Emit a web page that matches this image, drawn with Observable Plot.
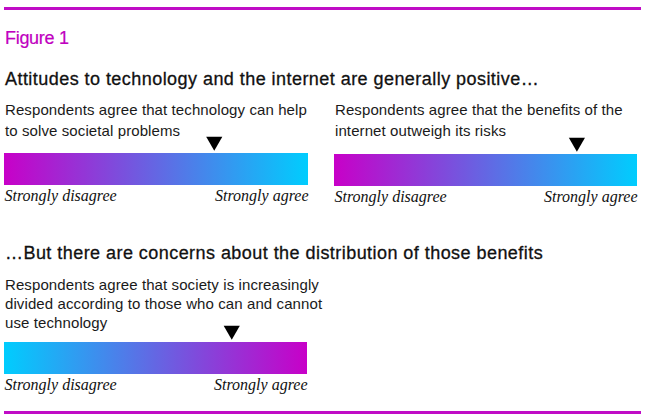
<!DOCTYPE html>
<html><head><meta charset="utf-8">
<script src="https://cdn.jsdelivr.net/npm/d3@7"></script>
<script src="https://cdn.jsdelivr.net/npm/@observablehq/plot@0.6"></script>
<style>
html,body{margin:0;padding:0;background:#fff;}
#fig{position:relative;width:645px;height:419px;overflow:hidden;font-family:"Liberation Sans",Arial,sans-serif;}
.rule{position:absolute;left:4px;width:637px;height:3px;background:#c00cc6;}
.t{position:absolute;white-space:nowrap;}
#figlabel{left:5px;top:28px;font-size:18px;line-height:20px;color:#c000c0;letter-spacing:-0.3px;-webkit-text-stroke:0.2px #c000c0;}
.head{left:5px;font-size:18px;line-height:20px;color:#111;-webkit-text-stroke:0.3px #111;letter-spacing:0.45px;}
.sub{font-size:15px;line-height:20px;color:#1a1a1a;white-space:normal;letter-spacing:0.1px;}
.chart{position:absolute;}
</style></head>
<body><div id="fig"></div>
<script>
// ---- data ----
const figureLabel = "Figure 1";
const headings = [
  "Attitudes to technology and the internet are generally positive\u2026",
  "\u2026But there are concerns about the distribution of those benefits"
];
const statements = [
  ["Respondents agree that technology can help", "to solve societal problems"],
  ["Respondents agree that the benefits of the", "internet outweigh its risks"],
  ["Respondents agree that society is increasingly", "divided according to those who can and cannot", "use technology"]
];
const agreement = [0.69, 0.80, 0.75];          // position of the marker on the disagree→agree scale
const scaleEnds = [0, 1];
const scaleLabels = ["Strongly disagree", "Strongly agree"];
const reversed = [false, false, true];        // third bar runs cyan → magenta

// ---- layout ----
const MAGENTA = "#c800c8", CYAN = "#00cdfe";
const fig = document.getElementById("fig");
function add(tag, cls, css, html) {
  const e = document.createElement(tag);
  e.className = cls; Object.assign(e.style, css); if (html != null) e.innerHTML = html;
  fig.appendChild(e); return e;
}
add("div", "rule", {top: "7px"});
add("div", "rule", {top: "411px"});
add("div", "t", {}, figureLabel).id = "figlabel";
add("div", "t head", {top: "69px"}, headings[0]);
add("div", "t head", {top: "243px"}, headings[1]);

const panelPos = [
  {left: 0, subTop: 99, lh: 21, plotTop: 133, width: 312},
  {left: 330, subTop: 99, lh: 21, plotTop: 134, width: 311},
  {left: 0, subTop: 275, lh: 19, plotTop: 322, width: 311}
];
const labelFont = {fontFamily: "'Liberation Serif', 'Times New Roman', serif", fontStyle: "italic", fontSize: 16, fill: "#111", frameAnchor: "bottom", dy: 15};

statements.forEach((lines, i) => {
  const p = panelPos[i];
  add("div", "t sub", {left: (p.left + 5) + "px", top: p.subTop + "px", lineHeight: p.lh + "px"}, lines.join("<br>"));
  const gid = "grad" + i;
  const stops = reversed[i] ? [CYAN, MAGENTA] : [MAGENTA, CYAN];
  const chart = Plot.plot({
    width: p.width,
    height: 72,
    marginLeft: 4, marginRight: 4, marginTop: 20, marginBottom: 20,
    x: {domain: scaleEnds, axis: null},
    style: {background: "transparent", overflow: "visible"},
    marks: [
      () => {
        const defs = d3.create("svg:defs");
        const g = defs.append("linearGradient").attr("id", gid).attr("x1", "0%").attr("x2", "100%").attr("y1", "0%").attr("y2", "0%");
        g.append("stop").attr("offset", "0%").attr("stop-color", stops[0]);
        g.append("stop").attr("offset", "100%").attr("stop-color", stops[1]);
        return defs.node();
      },
      Plot.rect([scaleEnds], {x1: d => d[0], x2: d => d[1], fill: `url(#${gid})`}),
      Plot.dot([agreement[i]], {x: d => d, frameAnchor: "top", dy: -12, symbol: "triangle", rotate: 180, r: 6, fill: "#000", stroke: "none"}),
      Plot.text([scaleEnds[0]], {x: d => d, text: () => scaleLabels[0], textAnchor: "start", ...labelFont}),
      Plot.text([scaleEnds[1]], {x: d => d, text: () => scaleLabels[1], textAnchor: "end", ...labelFont})
    ]
  });
  const wrap = add("div", "chart", {left: p.left + "px", top: p.plotTop + "px"});
  wrap.appendChild(chart);
});
</script>
</body></html>
